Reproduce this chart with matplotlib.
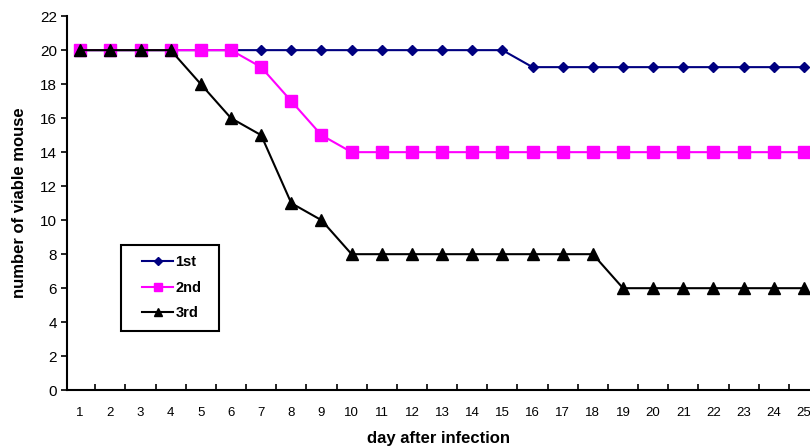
import numpy as np
import matplotlib.pyplot as plt
from matplotlib.patches import Rectangle
from matplotlib.ticker import FixedLocator, NullFormatter

plt.rcParams['font.family'] = ['Liberation Sans', 'DejaVu Sans']

days = list(range(1, 26))
first = [20] * 15 + [19] * 10
second = [20, 20, 20, 20, 20, 20, 19, 17, 15] + [14] * 16
third = [20, 20, 20, 20, 18, 16, 15, 11, 10] + [8] * 9 + [6] * 7

fig = plt.figure(figsize=(8.1, 4.48), dpi=100)
ax = fig.add_axes([0.083, 0.129, 0.917, 0.835])

ax.plot(days, first, color='#000080', marker='D', markersize=5, lw=1.5, label='1st')
ax.plot(days, second, color='#ff00ff', marker='s', markersize=8, lw=1.5, label='2nd')
ax.plot(days, third, color='black', marker='^', markersize=8, lw=1.5, label='3rd')

ax.set_xlim(0.57, 25.2)
ax.set_ylim(0, 22)
ax.set_yticks(range(0, 23, 2))
ax.set_xticks(days)
ax.tick_params(axis='x', which='major', length=0, labelsize=9.5, pad=12)
ax.xaxis.set_minor_locator(FixedLocator(np.arange(1.5, 25.5, 1)))
ax.xaxis.set_minor_formatter(NullFormatter())
ax.tick_params(axis='x', which='minor', length=4, width=1.2, direction='in')
ax.tick_params(axis='y', length=4, width=1.2, labelsize=11, direction='out')

for s in ['top', 'right']:
    ax.spines[s].set_visible(False)
for s in ['left', 'bottom']:
    ax.spines[s].set_linewidth(1.5)

ax.set_xlabel('day after infection', fontsize=12, fontweight='bold', labelpad=8.5)
ax.set_ylabel('number of viable mouse', fontsize=12, fontweight='bold', labelpad=9)

# legend box drawn separately so the side padding can be wider than the top
ax.add_patch(Rectangle((0.0727, 0.158), 0.132, 0.230, transform=ax.transAxes,
                       facecolor='white', edgecolor='black', lw=1.5, zorder=4))
leg = ax.legend(loc='upper left', bbox_to_anchor=(0.101, 0.361), borderaxespad=0,
                frameon=False, prop={'weight': 'bold', 'size': 10.5},
                handlelength=2.12, handletextpad=0.15, borderpad=0, labelspacing=0.8,
                markerscale=0.8)
leg.set_zorder(5)

plt.savefig('out.png', dpi=100)
